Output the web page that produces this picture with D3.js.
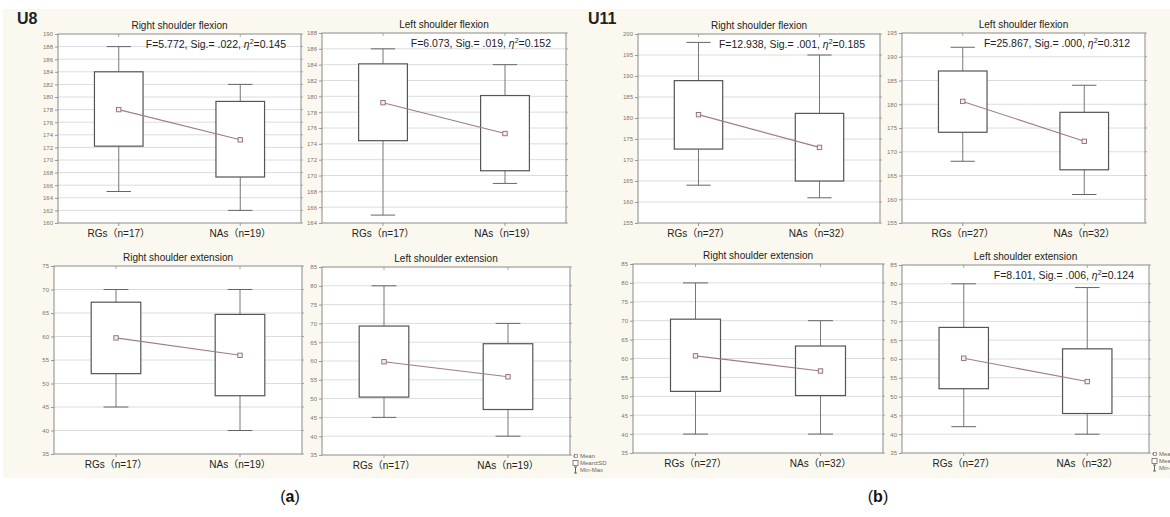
<!DOCTYPE html>
<html>
<head>
<meta charset="utf-8">
<script src="https://cdn.jsdelivr.net/npm/d3@7"></script>
<style>
  html, body { margin: 0; padding: 0; background: #fff; }
  svg { display: block; font-family: "Liberation Sans", Arial, "Noto Sans CJK SC", sans-serif; }
</style>
</head>
<body>
<svg id="chart" width="1170" height="517"></svg>
<script>
// ---- data ----
const groupNames = ['U8', 'U11'];
const panelTitles = [
  'Right shoulder flexion', 'Left shoulder flexion', 'Right shoulder extension', 'Left shoulder extension',
  'Right shoulder flexion', 'Left shoulder flexion', 'Right shoulder extension', 'Left shoulder extension'
];
const categoryLabels = [
  ['RGs\uFF08n=17\uFF09', 'NAs\uFF08n=19\uFF09'],
  ['RGs\uFF08n=27\uFF09', 'NAs\uFF08n=32\uFF09']
];
// [RGs, NAs] per panel
const maxValues  = [[188, 182], [186, 184], [70, 70], [80, 70], [198, 195], [192, 184], [80, 70], [80, 79]];
const sdHigh     = [[184, 179.3], [184.1, 180.1], [67.3, 64.7], [69.3, 64.6], [188.9, 181.1], [187, 178.3], [70.4, 63.3], [68.4, 62.7]];
const meanValues = [[178, 173.2], [179.2, 175.3], [59.7, 56], [59.8, 55.8], [180.8, 173], [180.6, 172.2], [60.7, 56.7], [60.2, 54]];
const sdLow      = [[172.2, 167.3], [174.4, 170.6], [52.1, 47.4], [50.4, 47.1], [172.6, 165], [174.1, 166.2], [51.3, 50.2], [52.1, 45.5]];
const minValues  = [[165, 162], [165, 169], [45, 40], [45, 40], [164, 161], [168, 161], [40, 40], [42, 40]];
const yDomains   = [[160, 190], [164, 188], [35, 75], [35, 85], [155, 200], [155, 195], [35, 85], [35, 85]];
const yTickSteps = [2, 2, 5, 5, 5, 5, 5, 5];
// F test annotation: [F, Sig, eta squared] or null
const statTexts = [
  ['5.772', '.022', '0.145'], ['6.073', '.019', '0.152'], null, null,
  ['12.938', '.001', '0.185'], ['25.867', '.000', '0.312'], null, ['8.101', '.006', '0.124']
];
const legendLabels = ['Mean', 'Mean\u00B1SD', 'Min-Max'];

// ---- layout (frame of each plot area) ----
const frames = [
  { x: 58, y: 34, w: 243, h: 189 }, { x: 322, y: 33, w: 244, h: 190 },
  { x: 54, y: 266, w: 248, h: 188 }, { x: 322, y: 267, w: 248, h: 188 },
  { x: 638, y: 34, w: 242, h: 189 }, { x: 902, y: 33, w: 243, h: 190 },
  { x: 633, y: 264, w: 250, h: 189 }, { x: 902, y: 265, w: 247, h: 188 }
];

const svg = d3.select('#chart');

// cream background of the screenshots
svg.append('rect').attr('x', 3).attr('y', 9).attr('width', 1167).attr('height', 469).attr('fill', '#fbf9ef');

const catIdx = [0, 1];

frames.forEach((f, p) => {
  const grp = p < 4 ? 0 : 1;
  const g = svg.append('g').attr('transform', `translate(${f.x},${f.y})`);

  const x = d3.scalePoint().domain(catIdx).range([0, f.w]).padding(0.5);
  const y = d3.scaleLinear().domain(yDomains[p]).range([f.h, 0]);
  const ticks = d3.range(yDomains[p][0], yDomains[p][1] + 0.001, yTickSteps[p]);
  const boxW = f.w * 0.2;
  const capW = f.w * 0.1;

  g.append('rect').attr('width', f.w).attr('height', f.h).attr('fill', '#fff');

  // gridlines
  g.selectAll('.grid').data(ticks.slice(1, -1)).enter().append('line')
    .attr('x1', 0).attr('x2', f.w)
    .attr('y1', d => y(d)).attr('y2', d => y(d))
    .attr('stroke', '#dcdcdc').attr('stroke-width', 1);

  // y axis
  const yAxis = d3.axisLeft(y).tickValues(ticks).tickSize(3).tickPadding(2).tickFormat(d3.format('d'));
  const ya = g.append('g').call(yAxis);
  ya.select('.domain').remove();
  ya.selectAll('line').attr('stroke', '#999');
  ya.selectAll('text').attr('font-size', 6).attr('fill', '#777').attr('font-family', '"Liberation Sans", Arial, sans-serif');

  // right side ticks
  g.selectAll('.rtick').data(ticks).enter().append('line')
    .attr('x1', f.w).attr('x2', f.w + 2)
    .attr('y1', d => y(d)).attr('y2', d => y(d))
    .attr('stroke', '#aaa');

  // category ticks top and bottom
  catIdx.forEach(c => {
    g.append('line').attr('x1', x(c)).attr('x2', x(c)).attr('y1', f.h).attr('y2', f.h + 3).attr('stroke', '#999');
    g.append('line').attr('x1', x(c)).attr('x2', x(c)).attr('y1', 0).attr('y2', 3).attr('stroke', '#aaa');
  });

  // whiskers
  catIdx.forEach(c => {
    const cx = x(c);
    g.append('line').attr('x1', cx).attr('x2', cx)
      .attr('y1', y(maxValues[p][c])).attr('y2', y(sdHigh[p][c]))
      .attr('stroke', '#777').attr('stroke-width', 1);
    g.append('line').attr('x1', cx).attr('x2', cx)
      .attr('y1', y(sdLow[p][c])).attr('y2', y(minValues[p][c]))
      .attr('stroke', '#777').attr('stroke-width', 1);
    [maxValues[p][c], minValues[p][c]].forEach(v => {
      g.append('line').attr('x1', cx - capW / 2).attr('x2', cx + capW / 2)
        .attr('y1', y(v)).attr('y2', y(v))
        .attr('stroke', '#666').attr('stroke-width', 1);
    });
    // mean ± SD box
    g.append('rect')
      .attr('x', cx - boxW / 2).attr('width', boxW)
      .attr('y', y(sdHigh[p][c])).attr('height', y(sdLow[p][c]) - y(sdHigh[p][c]))
      .attr('fill', '#fff').attr('stroke', '#555').attr('stroke-width', 1.2);
  });

  // frame
  g.append('rect').attr('width', f.w).attr('height', f.h)
    .attr('fill', 'none').attr('stroke', '#8a8a8a').attr('stroke-width', 1);

  // mean line + markers
  const line = d3.line().x(c => x(c)).y(c => y(meanValues[p][c]));
  g.append('path').attr('d', line(catIdx)).attr('fill', 'none')
    .attr('stroke', '#a07c84').attr('stroke-width', 1.1);
  g.selectAll('.mean').data(catIdx).enter().append('rect')
    .attr('x', c => x(c) - 2.2).attr('y', c => y(meanValues[p][c]) - 2.2)
    .attr('width', 4.4).attr('height', 4.4)
    .attr('fill', '#f4eeee').attr('stroke', '#8e6a70').attr('stroke-width', 0.9);

  // category labels
  catIdx.forEach(c => {
    g.append('text').attr('x', x(c)).attr('y', f.h + 14)
      .attr('text-anchor', 'middle').attr('font-size', 10).attr('fill', '#222')
      .text(categoryLabels[grp][c]);
  });

  // title
  g.append('text').attr('x', f.w / 2).attr('y', -5)
    .attr('text-anchor', 'middle').attr('font-size', 10).attr('fill', '#222')
    .text(panelTitles[p]);

  // F statistics
  const st = statTexts[p];
  if (st) {
    const t = g.append('text').attr('x', f.w - 15).attr('y', 14)
      .attr('text-anchor', 'end').attr('font-size', 10.5).attr('fill', '#222');
    t.append('tspan').text(`F=${st[0]}, Sig.= ${st[1]}, `);
    t.append('tspan').attr('font-style', 'italic').text('\u03B7');
    t.append('tspan').attr('font-size', 7).attr('dy', -4).text('2');
    t.append('tspan').attr('dy', 4).text(`=${st[2]}`);
  }
});

// group labels
[[17, 24], [588, 24]].forEach((pos, i) => {
  svg.append('text').attr('x', pos[0]).attr('y', pos[1])
    .attr('font-size', 16).attr('font-weight', 'bold').attr('fill', '#222')
    .text(groupNames[i]);
});

// legends (Statistica style)
[frames[3], frames[7]].forEach(f => {
  const lx = f.x + f.w + 3;
  const ly = f.y + f.h;
  const lg = svg.append('g').attr('transform', `translate(${lx},${ly})`);
  legendLabels.forEach((lab, i) => {
    const yy = 1 + i * 7;
    if (i === 0) {
      lg.append('line').attr('x1', 0).attr('x2', 5).attr('y1', yy).attr('y2', yy).attr('stroke', '#8e6a70');
      lg.append('rect').attr('x', 1.5).attr('y', yy - 1.5).attr('width', 3).attr('height', 3)
        .attr('fill', '#fff').attr('stroke', '#8e6a70').attr('stroke-width', 0.7);
    } else if (i === 1) {
      lg.append('rect').attr('x', 0).attr('y', yy - 2.5).attr('width', 5).attr('height', 5)
        .attr('fill', '#fff').attr('stroke', '#555').attr('stroke-width', 0.7);
    } else {
      lg.append('line').attr('x1', 2.5).attr('x2', 2.5).attr('y1', yy - 3).attr('y2', yy + 3).attr('stroke', '#666');
      lg.append('line').attr('x1', 1).attr('x2', 4).attr('y1', yy - 3).attr('y2', yy - 3).attr('stroke', '#666');
      lg.append('line').attr('x1', 1).attr('x2', 4).attr('y1', yy + 3).attr('y2', yy + 3).attr('stroke', '#666');
    }
    lg.append('text').attr('x', 7).attr('y', yy + 2).attr('font-size', 6).attr('fill', '#666').text(lab);
  });
});

// sub-figure labels
[['a', 290], ['b', 878]].forEach(([lab, cx]) => {
  const t = svg.append('text').attr('x', cx).attr('y', 502)
    .attr('text-anchor', 'middle').attr('font-size', 16).attr('fill', '#111');
  t.append('tspan').text('(');
  t.append('tspan').attr('font-weight', 'bold').text(lab);
  t.append('tspan').text(')');
});
</script>
</body>
</html>
